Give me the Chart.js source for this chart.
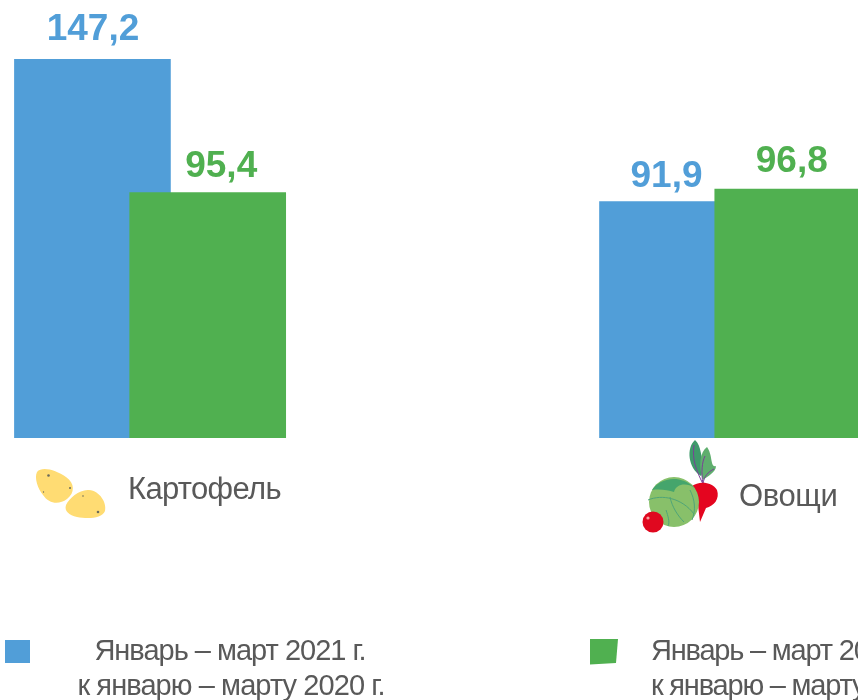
<!DOCTYPE html>
<html>
<head>
<meta charset="utf-8">
<style>
  html, body { margin: 0; padding: 0; background: #fff; overflow: hidden; }
  #wrap { width: 858px; height: 700px; }
</style>
</head>
<body>
<div id="wrap"><canvas id="chart" width="858" height="700"></canvas></div>
<script src="https://cdn.jsdelivr.net/npm/chart.js@4"></script>
<script>
const categories = ["Картофель", "Овощи"];
const values2021 = [147.2, 91.9];
const values2022 = [95.4, 96.8];
const legend2021 = ["Январь – март 2021 г.", "к январю – марту 2020 г."];
const legend2022 = ["Январь – март 2021 г.", "к январю – марту 2019 г."];

const BLUE = "#519ed8";
const GREEN = "#50b050";
const GREY = "#595959";
const FONT = '"Liberation Sans", Arial, sans-serif';

// bars in one group overlap, so x is a plain number: group + series shift
const SERIES_SHIFT = 0.197;

// value labels are not quite centred over the bars in the original
const labelNudge = [
  [{ dx: 0.5, dy: -19 }, { dx: -11, dy: -15 }],
  [{ dx: 13.5, dy: -16 }, { dx: -1, dy: -17 }]
];

function drawText(ctx, text, x, y, font, color, align, spacing) {
  ctx.font = font;
  ctx.fillStyle = color;
  ctx.textAlign = align;
  ctx.textBaseline = "alphabetic";
  ctx.letterSpacing = spacing || "0px";
  ctx.fillText(text, x, y);
  ctx.letterSpacing = "0px";
}

function dot(ctx, x, y, r) {
  ctx.fillStyle = "#6b6b5a";
  ctx.beginPath();
  ctx.arc(x, y, r, 0, Math.PI * 2);
  ctx.fill();
}

function drawPotatoes(ctx) {
  ctx.fillStyle = "#ffdc73";
  ctx.beginPath();
  ctx.moveTo(37, 472);
  ctx.bezierCurveTo(42, 466, 56, 470, 66, 477);
  ctx.bezierCurveTo(75, 483, 75, 493, 67, 499);
  ctx.bezierCurveTo(59, 505, 49, 504, 43, 495);
  ctx.bezierCurveTo(38, 489, 34, 478, 37, 472);
  ctx.fill();
  ctx.beginPath();
  ctx.moveTo(66, 505);
  ctx.bezierCurveTo(69, 498, 80, 489, 89, 490);
  ctx.bezierCurveTo(100, 491, 107, 503, 105, 511);
  ctx.bezierCurveTo(102, 519, 87, 519, 77, 517);
  ctx.bezierCurveTo(69, 515, 64, 511, 66, 505);
  ctx.fill();
  dot(ctx, 48.5, 475.5, 1.3);
  dot(ctx, 70, 488, 1);
  dot(ctx, 43.5, 492, 0.7);
  dot(ctx, 83, 496, 0.8);
  dot(ctx, 98, 512, 1.3);
}

function drawVegetables(ctx) {
  // radish leaves
  ctx.fillStyle = "#3f9a6b";
  ctx.beginPath();
  ctx.moveTo(701, 476);
  ctx.bezierCurveTo(688, 468, 686, 448, 695, 440);
  ctx.bezierCurveTo(702, 446, 700, 458, 705, 466);
  ctx.closePath();
  ctx.fill();
  ctx.fillStyle = "#5fae6e";
  ctx.beginPath();
  ctx.moveTo(703, 480);
  ctx.bezierCurveTo(698, 466, 700, 452, 707, 447);
  ctx.bezierCurveTo(713, 455, 710, 468, 716, 466);
  ctx.bezierCurveTo(716, 472, 708, 476, 703, 480);
  ctx.fill();
  ctx.strokeStyle = "#7a3f98";
  ctx.lineWidth = 1;
  ctx.beginPath();
  ctx.moveTo(703, 484);
  ctx.bezierCurveTo(696, 470, 692, 460, 694, 445);
  ctx.moveTo(703, 484);
  ctx.bezierCurveTo(701, 472, 702, 462, 705, 456);
  ctx.moveTo(703, 484);
  ctx.bezierCurveTo(704, 476, 708, 472, 714, 469);
  ctx.stroke();
  // radish
  ctx.fillStyle = "#e4051f";
  ctx.beginPath();
  ctx.moveTo(692, 486);
  ctx.bezierCurveTo(698, 481, 712, 481, 717, 490);
  ctx.bezierCurveTo(720, 499, 714, 506, 706, 508);
  ctx.lineTo(700, 522);
  ctx.lineTo(698, 505);
  ctx.closePath();
  ctx.fill();
  // cabbage
  ctx.fillStyle = "#88c06a";
  ctx.beginPath();
  ctx.arc(674, 502, 25, 0, Math.PI * 2);
  ctx.fill();
  ctx.fillStyle = "#45a56c";
  ctx.beginPath();
  ctx.moveTo(652, 490);
  ctx.bezierCurveTo(658, 480, 678, 472, 695, 488);
  ctx.bezierCurveTo(686, 482, 676, 484, 674, 492);
  ctx.bezierCurveTo(668, 490, 660, 489, 652, 490);
  ctx.fill();
  ctx.strokeStyle = "#4fa578";
  ctx.lineWidth = 1;
  ctx.beginPath();
  ctx.moveTo(648, 500);
  ctx.bezierCurveTo(662, 494, 682, 498, 694, 514);
  ctx.moveTo(670, 497);
  ctx.bezierCurveTo(672, 507, 678, 516, 684, 522);
  ctx.moveTo(666, 510);
  ctx.bezierCurveTo(668, 516, 670, 522, 668, 526);
  ctx.moveTo(690, 490);
  ctx.bezierCurveTo(695, 500, 696, 510, 692, 520);
  ctx.stroke();
  // tomato
  ctx.fillStyle = "#e0081f";
  ctx.beginPath();
  ctx.arc(653, 522, 10.5, 0, Math.PI * 2);
  ctx.fill();
  ctx.fillStyle = "#f6a0a0";
  ctx.beginPath();
  ctx.arc(648, 518, 1.6, 0, Math.PI * 2);
  ctx.fill();
}

const overlayPlugin = {
  id: "overlay",
  afterDatasetsDraw(chart) {
    const ctx = chart.ctx;
    ctx.save();

    // values over the bars
    chart.data.datasets.forEach((ds, i) => {
      chart.getDatasetMeta(i).data.forEach((bar, j) => {
        const n = labelNudge[i][j];
        const text = String(ds.data[j].y).replace(".", ",");
        drawText(ctx, text, bar.x + n.dx, bar.y + n.dy, "bold 37px " + FONT, ds.backgroundColor, "center");
      });
    });

    // category names with their pictures
    drawPotatoes(ctx);
    drawVegetables(ctx);
    drawText(ctx, categories[0], 128, 499, "31px " + FONT, GREY, "left", "-0.67px");
    drawText(ctx, categories[1], 739, 506, "31px " + FONT, GREY, "left", "-0.4px");

    // legend
    ctx.fillStyle = BLUE;
    ctx.fillRect(5, 640, 25, 23);
    ctx.fillStyle = GREEN;
    ctx.beginPath();
    ctx.moveTo(590, 639);
    ctx.lineTo(618, 639);
    ctx.lineTo(616, 663);
    ctx.lineTo(590, 664.5);
    ctx.closePath();
    ctx.fill();
    drawText(ctx, legend2021[0], 230, 660, "29px " + FONT, GREY, "center", "-1px");
    drawText(ctx, legend2021[1], 231, 695, "29px " + FONT, GREY, "center", "-0.92px");
    drawText(ctx, legend2022[0], 651, 660, "29px " + FONT, GREY, "left", "-1.2px");
    drawText(ctx, legend2022[1], 651, 695, "29px " + FONT, GREY, "left", "-1.2px");

    ctx.restore();
  }
};

new Chart(document.getElementById("chart").getContext("2d"), {
  type: "bar",
  data: {
    datasets: [
      {
        data: values2021.map((v, i) => ({ x: i, y: v })),
        backgroundColor: BLUE,
        grouped: false,
        barThickness: 156,
        order: 2
      },
      {
        data: values2022.map((v, i) => ({ x: i + SERIES_SHIFT, y: v })),
        backgroundColor: GREEN,
        grouped: false,
        barThickness: 156,
        order: 1
      }
    ]
  },
  options: {
    responsive: false,
    animation: false,
    layout: { padding: { top: 0, left: 0, right: 0, bottom: 262 } },
    plugins: { legend: { display: false }, tooltip: { enabled: false } },
    scales: {
      x: { type: "linear", display: false, offset: false, min: -0.158, max: 1.3085 },
      y: { display: false, min: 0, max: 170.3 }
    }
  },
  plugins: [overlayPlugin]
});
</script>
</body>
</html>
